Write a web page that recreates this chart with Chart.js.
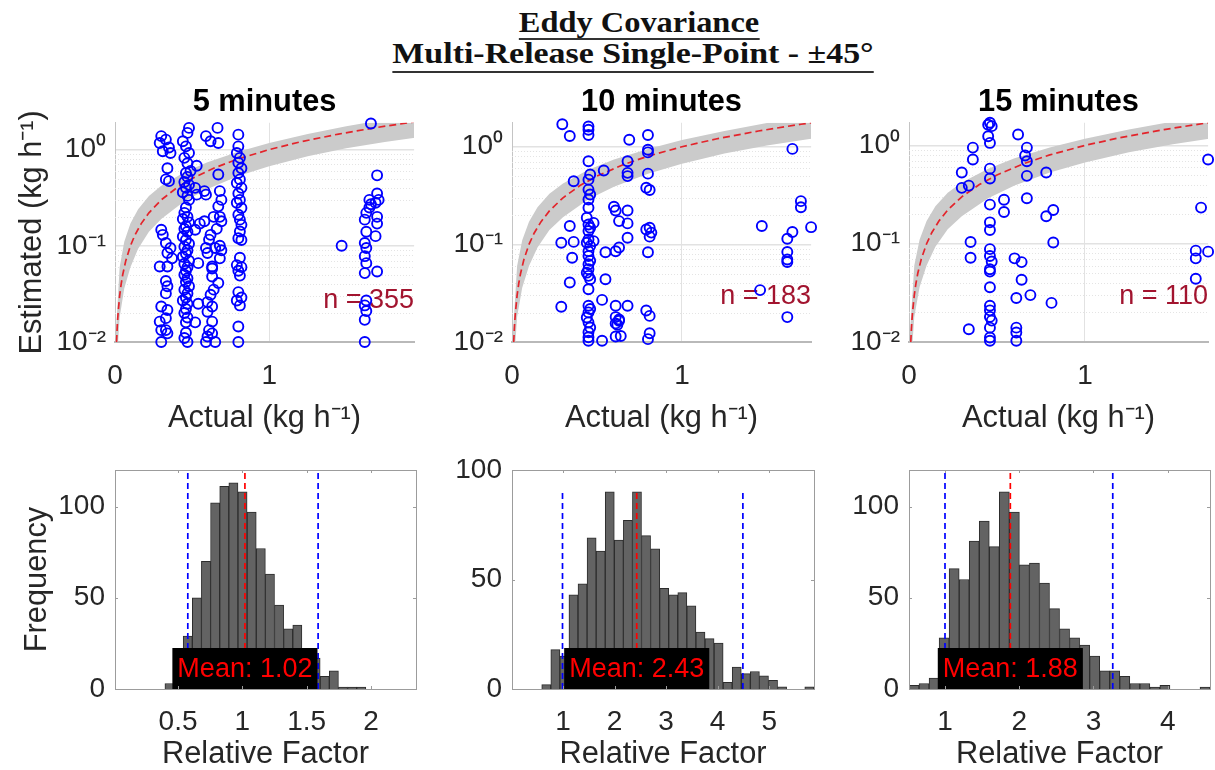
<!DOCTYPE html>
<html><head><meta charset="utf-8">
<script src="https://cdn.jsdelivr.net/npm/chart.js@4.4.1/dist/chart.umd.min.js"></script>
<style>
body{margin:0;background:#fff;width:1215px;height:770px;position:relative;overflow:hidden;}
canvas{position:absolute;}
.ttl{position:absolute;font-family:"Liberation Serif","Times New Roman",serif;font-weight:bold;font-size:30px;line-height:30px;color:#111;white-space:nowrap;}
.ttl span{border-bottom:2px solid #333;}
</style></head>
<body>
<div class="ttl" style="left:639px;top:7px;transform:translateX(-50%) scaleX(1.08);"><span>Eddy Covariance</span></div>
<div class="ttl" style="left:633px;top:38px;transform:translateX(-50%) scaleX(1.13);"><span style="padding-bottom:2px;">Multi-Release Single-Point - ±45°</span></div>
<canvas id="s0" width="421" height="357" style="left:0px;top:80px"></canvas>
<canvas id="s1" width="418" height="357" style="left:400px;top:80px"></canvas>
<canvas id="s2" width="415" height="357" style="left:800px;top:80px"></canvas>
<canvas id="h0" width="421" height="333" style="left:0px;top:440px"></canvas>
<canvas id="h1" width="399" height="333" style="left:420px;top:440px"></canvas>
<canvas id="h2" width="405" height="333" style="left:810px;top:440px"></canvas>
<script>
// ---------------- DATA ----------------
const panelTitles = ['5 minutes', '10 minutes', '15 minutes'];
const sampleCounts = [355, 183, 110];
const axisMax = [1.94, 1.76, 1.70];          // square axes limits (kg/h)
const yAxisMax = [1.90, 1.76, 1.70];
const xTicksTop = [0, 1];
const yTickValues = [0.01, 0.1, 1];
const yTickLabels = ['10\u207B\u00B2', '10\u207B\u00B9', '10\u2070'];
const minorGridValues = [0.02,0.03,0.04,0.05,0.06,0.07,0.08,0.09,0.2,0.3,0.4,0.5,0.6,0.7,0.8,0.9];

// 1:1 reference line
const oneToOne = [0.01,0.015,0.02,0.03,0.04,0.05,0.07,0.1,0.13,0.17,0.22,0.3,0.4,0.5,0.65,0.8,1.0,1.2,1.45,1.7,1.95];
// grey uncertainty band
const bandX  = [0.005,0.03,0.06,0.1,0.15,0.22,0.3,0.45,0.6,0.8,1.0,1.25,1.5,1.75,1.95];
const bandHi = [0.012,0.06,0.11,0.17,0.24,0.33,0.42,0.58,0.74,0.95,1.17,1.45,1.75,2.05,2.3];
const bandLo = [0.004,0.018,0.036,0.06,0.093,0.14,0.19,0.29,0.39,0.53,0.67,0.85,1.03,1.2,1.33];

const pts5 = [
 [0.30,1.38],[0.33,1.27],[0.29,1.17],[0.35,1.05],[0.31,0.96],[0.36,0.92],[0.34,0.64],[0.33,0.49],[0.35,0.47],[0.30,0.147],
 [0.31,0.13],[0.33,0.107],[0.36,0.095],[0.34,0.084],[0.37,0.074],[0.29,0.061],[0.34,0.061],[0.33,0.043],[0.34,0.038],[0.33,0.032],
 [0.30,0.0234],[0.34,0.0215],[0.33,0.0177],[0.29,0.0163],[0.30,0.0133],[0.34,0.0123],[0.33,0.0133],[0.30,0.010],
 [0.48,1.68],[0.47,1.49],[0.44,1.22],[0.46,1.08],[0.48,0.92],[0.45,0.82],[0.47,0.72],[0.49,0.60],[0.46,0.57],[0.47,0.52],
 [0.45,0.46],[0.48,0.43],[0.46,0.40],[0.44,0.36],[0.47,0.33],[0.48,0.30],
 [0.46,0.25],[0.45,0.22],[0.47,0.20],[0.44,0.19],[0.48,0.175],[0.46,0.16],[0.45,0.15],[0.47,0.14],[0.44,0.125],[0.46,0.115],
 [0.48,0.105],[0.45,0.098],[0.47,0.09],[0.46,0.083],[0.44,0.077],[0.48,0.07],[0.45,0.065],[0.47,0.06],[0.46,0.055],[0.45,0.05],
 [0.47,0.046],[0.46,0.042],[0.48,0.038],[0.45,0.035],[0.47,0.032],[0.46,0.029],[0.44,0.027],[0.47,0.025],[0.46,0.022],[0.45,0.02],
 [0.47,0.018],[0.46,0.016],[0.46,0.0125],[0.45,0.011],[0.47,0.010],
 [0.53,0.68],[0.52,0.40],[0.53,0.34],[0.55,0.17],[0.52,0.147],[0.54,0.066],[0.54,0.025],[0.52,0.016],
 [0.665,1.68],[0.59,1.38],[0.62,1.22],[0.67,1.17],[0.67,0.55],[0.68,0.37],[0.69,0.30],[0.67,0.257],[0.68,0.20],[0.69,0.18],
 [0.61,0.116],[0.68,0.10],[0.65,0.095],[0.60,0.084],[0.68,0.074],[0.63,0.061],[0.63,0.048],[0.62,0.031],[0.63,0.0234],[0.60,0.0206],
 [0.63,0.0163],[0.61,0.0133],[0.63,0.0123],[0.60,0.0114],[0.65,0.010],[0.59,0.010],
 [0.58,0.37],[0.59,0.34],[0.58,0.18],[0.64,0.20],[0.66,0.15],[0.62,0.13],[0.59,0.095],[0.69,0.09],[0.63,0.058],[0.67,0.041],[0.64,0.035],[0.60,0.026],
 [0.80,1.43],[0.80,1.08],[0.79,0.92],[0.81,0.82],[0.80,0.73],[0.82,0.64],[0.80,0.57],[0.81,0.49],[0.79,0.45],[0.82,0.40],
 [0.80,0.35],[0.81,0.30],[0.79,0.28],[0.82,0.247],[0.80,0.21],[0.81,0.187],[0.82,0.165],[0.81,0.141],[0.80,0.12],[0.82,0.115],
 [0.81,0.075],[0.79,0.063],[0.82,0.06],[0.80,0.055],[0.81,0.049],[0.80,0.033],[0.82,0.029],[0.79,0.027],[0.81,0.024],[0.80,0.0145],[0.80,0.010],
 [1.62,0.187],[1.63,0.14],[1.62,0.107],[1.63,0.095],[1.62,0.078],[1.63,0.066],[1.62,0.052],[1.63,0.027],[1.62,0.024],[1.63,0.021],
 [1.62,0.017],[1.62,0.010],[1.65,0.30],[1.66,0.27],[1.65,0.25],[1.63,0.22],
 [1.70,0.54],[1.70,0.35],[1.71,0.30],[1.69,0.28],[1.70,0.20],[1.70,0.17],[1.69,0.126],[1.70,0.054],
 [1.47,0.10],[1.66,1.87]
];
const pts10 = [
 [0.45,1.61],[0.45,1.49],[0.45,1.32],[0.45,0.71],[0.46,0.52],[0.45,0.46],[0.45,0.364],[0.46,0.324],[0.45,0.288],[0.45,0.237],
 [0.44,0.187],[0.45,0.16],[0.46,0.148],[0.45,0.137],[0.45,0.112],[0.44,0.104],[0.46,0.096],[0.45,0.085],[0.45,0.076],[0.46,0.068],
 [0.45,0.0625],[0.45,0.0556],[0.44,0.0513],[0.45,0.0476],[0.46,0.044],[0.45,0.0347],[0.45,0.0235],[0.46,0.0218],[0.45,0.0201],[0.44,0.0178],
 [0.45,0.0159],[0.46,0.0141],[0.45,0.0126],[0.45,0.0112],[0.45,0.0103],
 [0.296,1.70],[0.34,1.29],[0.363,0.443],[0.34,0.154],[0.29,0.104],[0.363,0.106],[0.354,0.073],[0.34,0.0407],[0.29,0.023],
 [0.48,0.166],[0.48,0.108],[0.54,0.57],[0.55,0.083],[0.55,0.044],[0.53,0.027],[0.53,0.0103],
 [0.60,0.243],[0.61,0.222],[0.68,0.222],[0.63,0.173],[0.68,0.164],[0.68,0.117],[0.63,0.093],[0.61,0.085],[0.61,0.0235],[0.68,0.0235],
 [0.61,0.018],[0.63,0.0165],[0.62,0.015],[0.61,0.0155],[0.63,0.017],[0.61,0.0114],[0.64,0.0115],
 [0.69,1.18],[0.68,0.71],[0.68,0.54],[0.68,0.50],
 [0.80,1.32],[0.80,0.93],[0.80,0.875],[0.80,0.53],[0.79,0.38],[0.81,0.36],[0.79,0.142],[0.81,0.148],[0.82,0.132],[0.81,0.12],
 [0.80,0.083],[0.79,0.021],[0.81,0.0185],[0.81,0.0123],[0.80,0.0107],
 [1.47,0.154],[1.65,0.95],[1.70,0.277],[1.70,0.24],[1.76,0.15],[1.65,0.134],[1.62,0.114],[1.62,0.0835],[1.62,0.07],[1.62,0.066],
 [1.46,0.034],[1.62,0.018]
];
const pts15 = [
 [0.46,1.70],[0.47,1.57],[0.45,1.62],[0.45,1.24],[0.46,1.06],[0.363,0.95],[0.363,0.72],[0.30,0.53],[0.30,0.37],[0.34,0.39],
 [0.46,0.58],[0.46,0.46],[0.62,1.29],[0.67,0.95],[0.66,0.79],[0.67,0.69],[0.67,0.49],[0.78,0.53],[0.67,0.29],[0.54,0.28],
 [0.54,0.21],[0.46,0.25],[0.78,0.19],[0.82,0.22],[0.46,0.165],[0.46,0.138],[0.35,0.104],[0.35,0.072],[0.82,0.103],[0.46,0.088],
 [0.46,0.075],[0.47,0.066],[0.46,0.055],[0.46,0.052],[0.60,0.071],[0.64,0.065],[0.64,0.043],[0.46,0.036],[0.61,0.028],[0.69,0.030],
 [0.81,0.025],[0.46,0.0234],[0.46,0.021],[0.46,0.018],[0.47,0.0165],[0.34,0.0135],[0.46,0.014],[0.46,0.0111],[0.46,0.0103],[0.61,0.014],
 [0.61,0.0125],[0.61,0.0103],[1.70,0.72],[1.66,0.233],[1.63,0.085],[1.63,0.071],[1.70,0.083],[1.63,0.044]
];
const scatterPoints = [pts5, pts10, pts15];

// histograms of the relative factor
const histBinStart = [0.398, 0.587, 0.515];
const histBinWidth = [0.071, 0.176, 0.1352];
const histCounts5  = [3,12,29,50,70,102,111,113,108,97,77,63,46,33,35,20,17,7,10,1,1,1];
const histCounts10 = [2,18,15,43,48,69,63,90,68,77,90,70,64,46,43,44,38,26,23,21,3,10,7,8,6,4,1,0,0,1];
const histCounts15 = [2,3,6,28,66,60,81,92,78,108,97,68,69,58,44,33,28,24,18,10,10,7,3,3,1,2,0,0,0,1];
const histCounts = [histCounts5, histCounts10, histCounts15];
const histMeans = [1.02, 2.43, 1.88];
const histLower = [0.576, 0.99, 1.0];
const histUpper = [1.589, 4.49, 3.26];
const histLineTop = [120, 90, 120];
const histXMin = [0.01, 0.01, 0.515];
const histXMax = [2.35, 5.87, 4.57];
const histYMax = [120, 100, 120];
const histXTicks = [[0.5,1,1.5,2],[1,2,3,4,5],[1,2,3,4]];
const histYTicks = [0, 50, 100];

// ---------------- STYLE / LAYOUT ----------------
const FONT = '"Liberation Sans", Arial, Helvetica, sans-serif';
const INK = '#262626';
const TICK_SIZE = 28, LABEL_SIZE = 30.8;
const yAxisWidthTop = [115, 112, 109];
const yAxisWidthHist = [115, 92, 99];
const nLabelY = [0.027, 0.029, 0.029];

function scatterChart(i) {
  const pts = scatterPoints[i];
  const plugin = {
    id: 'extras' + i,
    beforeDatasetsDraw(chart) {
      const {ctx, chartArea: a, scales: {y}} = chart;
      ctx.save();
      ctx.strokeStyle = '#e4e4e4'; ctx.lineWidth = 1; ctx.setLineDash([1, 2]);
      minorGridValues.forEach(v => {
        const py = Math.round(y.getPixelForValue(v)) + 0.5;
        if (py > a.top && py < a.bottom) { ctx.beginPath(); ctx.moveTo(a.left, py); ctx.lineTo(a.right, py); ctx.stroke(); }
      });
      ctx.setLineDash([]);
      ctx.font = '27px ' + FONT; ctx.fillStyle = '#A2142F'; ctx.textAlign = 'right'; ctx.textBaseline = 'middle';
      ctx.fillText('n = ' + sampleCounts[i], a.right, y.getPixelForValue(nLabelY[i]));
      ctx.restore();
    }
  };
  new Chart(document.getElementById('s' + i), {
    type: 'scatter',
    data: { datasets: [
      { type: 'line', data: bandX.map((v, k) => ({x: v, y: bandHi[k]})), fill: '+1', backgroundColor: '#cbcbcb', borderWidth: 0, pointRadius: 0, order: 3 },
      { type: 'line', data: bandX.map((v, k) => ({x: v, y: bandLo[k]})), fill: false, borderWidth: 0, pointRadius: 0, order: 4 },
      { type: 'line', data: oneToOne.map(v => ({x: v, y: v})), borderColor: '#e3242b', borderDash: [7, 4], borderWidth: 1.7, pointRadius: 0, fill: false, order: 2 },
      { data: pts.map(p => ({x: p[0], y: p[1]})), pointStyle: 'circle', pointRadius: 5, borderColor: '#0000ff', backgroundColor: 'rgba(0,0,0,0)', pointBorderWidth: 1.9, borderWidth: 1.9, clip: false, order: 1 }
    ]},
    options: {
      animation: false, responsive: false, devicePixelRatio: 1,
      layout: { padding: { top: 3.9, right: 5, left: 0, bottom: 0 } },
      plugins: {
        legend: { display: false }, tooltip: { enabled: false },
        title: { display: true, fullSize: false, text: panelTitles[i], color: '#000', font: { family: FONT, size: LABEL_SIZE, weight: 'bold' }, padding: { top: 0, bottom: 1.9 } }
      },
      scales: {
        x: {
          type: 'linear', min: 0, max: axisMax[i],
          afterFit: s => { s.height = 95; },
          afterBuildTicks: s => { s.ticks = xTicksTop.map(v => ({value: v})); },
          ticks: { color: INK, font: { family: FONT, size: TICK_SIZE }, padding: 17, callback: v => String(v) },
          grid: { color: '#e2e2e2', lineWidth: 1, drawTicks: false },
          border: { color: '#b9b9b9', width: 2 },
          title: { display: true, text: 'Actual (kg h\u207B\u00B9)', color: INK, font: { family: FONT, size: LABEL_SIZE }, padding: 0 }
        },
        y: {
          type: 'logarithmic', min: 0.01, max: yAxisMax[i],
          afterFit: s => { s.width = yAxisWidthTop[i]; },
          afterBuildTicks: s => { s.ticks = yTickValues.map(v => ({value: v, major: true})); },
          ticks: { color: INK, font: { family: FONT, size: TICK_SIZE }, padding: 9, callback: v => { const k = yTickValues.indexOf(v); return k >= 0 ? yTickLabels[k] : ''; } },
          grid: { color: '#e2e2e2', lineWidth: 1.5, drawTicks: false },
          border: { color: '#c4c4c4', width: 1 },
          title: { display: i === 0, text: 'Estimated (kg h\u207B\u00B9)', color: INK, font: { family: FONT, size: LABEL_SIZE }, padding: { top: 14, bottom: 0 } }
        }
      }
    },
    plugins: [plugin]
  });
}

function histChart(i) {
  const counts = histCounts[i];
  const plugin = {
    id: 'hextras' + i,
    afterDatasetsDraw(chart) {
      const {ctx, scales: {x, y}} = chart;
      ctx.save();
      ctx.font = '27px ' + FONT;
      const text = 'Mean: ' + histMeans[i].toFixed(2);
      const tw = ctx.measureText(text).width;
      const cx = x.getPixelForValue(histMeans[i]);
      const bw = tw + 10, bh = 41, by = y.getPixelForValue(0);
      ctx.fillStyle = '#000'; ctx.fillRect(cx - bw / 2, by - bh, bw, bh);
      ctx.fillStyle = '#ff0000'; ctx.textAlign = 'center'; ctx.textBaseline = 'middle';
      ctx.fillText(text, cx, by - bh / 2 + 1);
      ctx.restore();
    },
    afterDraw(chart) {
      const {ctx, chartArea: a, scales: {x, y}} = chart;
      ctx.save();
      ctx.strokeStyle = '#9c9c9c'; ctx.lineWidth = 1;
      ctx.strokeRect(Math.round(a.left) + 0.5, Math.round(a.top) + 0.5, Math.round(a.right - a.left), Math.round(a.bottom - a.top));
      ctx.beginPath();
      histXTicks[i].forEach(v => { const px = Math.round(x.getPixelForValue(v)) + 0.5; ctx.moveTo(px, a.bottom); ctx.lineTo(px, a.bottom - 3); ctx.moveTo(px, a.top); ctx.lineTo(px, a.top + 3); });
      histYTicks.forEach(v => { const py = Math.round(y.getPixelForValue(v)) + 0.5; ctx.moveTo(a.left, py); ctx.lineTo(a.left + 3, py); ctx.moveTo(a.right, py); ctx.lineTo(a.right - 3, py); });
      ctx.stroke();
      ctx.restore();
    }
  };
  new Chart(document.getElementById('h' + i), {
    type: 'bar',
    data: { datasets: [
      { type: 'bar', data: counts.map((c, k) => ({x: histBinStart[i] + (k + 0.5) * histBinWidth[i], y: c})), backgroundColor: '#636363', borderColor: '#2c2c2c', borderWidth: 1, barPercentage: 1, categoryPercentage: 1, order: 3 },
      { type: 'line', data: [{x: histLower[i], y: 0}, {x: histLower[i], y: histLineTop[i]}], borderColor: '#0000ff', borderDash: [6, 4], borderWidth: 1.7, pointRadius: 0, fill: false, order: 1 },
      { type: 'line', data: [{x: histUpper[i], y: 0}, {x: histUpper[i], y: histLineTop[i]}], borderColor: '#0000ff', borderDash: [6, 4], borderWidth: 1.7, pointRadius: 0, fill: false, order: 1 },
      { type: 'line', data: [{x: histMeans[i], y: 0}, {x: histMeans[i], y: histLineTop[i]}], borderColor: '#ff0000', borderDash: [6, 4], borderWidth: 1.7, pointRadius: 0, fill: false, order: 1 }
    ]},
    options: {
      animation: false, responsive: false, devicePixelRatio: 1,
      layout: { padding: { top: 30, right: 5, left: 0, bottom: 0 } },
      plugins: { legend: { display: false }, tooltip: { enabled: false } },
      scales: {
        x: {
          type: 'linear', min: histXMin[i], max: histXMax[i], offset: false,
          afterFit: s => { s.height = 84; },
          afterBuildTicks: s => { s.ticks = histXTicks[i].map(v => ({value: v})); },
          ticks: { color: INK, font: { family: FONT, size: TICK_SIZE }, padding: 16, callback: v => String(v) },
          grid: { display: false, offset: false, drawTicks: false },
          border: { display: false },
          title: { display: true, text: 'Relative Factor', color: INK, font: { family: FONT, size: LABEL_SIZE }, padding: 0 }
        },
        y: {
          min: 0, max: histYMax[i],
          afterFit: s => { s.width = yAxisWidthHist[i]; },
          afterBuildTicks: s => { s.ticks = histYTicks.map(v => ({value: v})); },
          ticks: { color: INK, font: { family: FONT, size: TICK_SIZE }, padding: 10 },
          grid: { display: false, drawTicks: false },
          border: { display: false },
          title: { display: i === 0, text: 'Frequency', color: INK, font: { family: FONT, size: LABEL_SIZE }, padding: { top: 19.5, bottom: 0 } }
        }
      }
    },
    plugins: [plugin]
  });
}

[0, 1, 2].forEach(scatterChart);
[0, 1, 2].forEach(histChart);
</script>
</body></html>
